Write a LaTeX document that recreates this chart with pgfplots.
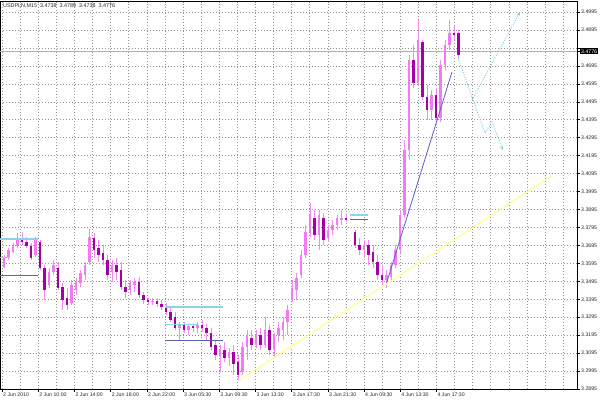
\documentclass[border=0pt]{standalone}
\usepackage{fontspec}
\setmainfont{Liberation Sans}
\usepackage{pgfplots}
\usepackage{pgfplotstable}
\pgfplotsset{compat=1.18}
\usetikzlibrary{arrows.meta}
\definecolor{wick}{RGB}{240,140,240}
\definecolor{bull}{RGB}{246,120,246}
\definecolor{bear}{RGB}{165,0,165}
\definecolor{cyanL}{RGB}{140,210,235}
\definecolor{slateL}{RGB}{90,100,170}
\definecolor{trendB}{RGB}{95,90,215}
\definecolor{yelL}{RGB}{255,255,150}
\definecolor{arrowC}{RGB}{120,200,220}

\pgfplotstableread{
x o h l c
4 3.3575 3.3642 3.3569 3.3625
8.5 3.3625 3.3681 3.3614 3.3670
13 3.3658 3.3709 3.3653 3.3698
17.5 3.3692 3.3764 3.3681 3.3736
22 3.3736 3.3770 3.3698 3.3714
26.5 3.3714 3.3742 3.3681 3.3692
31 3.3692 3.3709 3.3614 3.3625
35.5 3.3642 3.3742 3.3631 3.3725
40 3.3714 3.3725 3.3558 3.3569
44.5 3.3569 3.3586 3.3391 3.3447
49 3.3475 3.3569 3.3458 3.3547
53.5 3.3547 3.3614 3.3530 3.3586
58 3.3569 3.3603 3.3447 3.3458
62.5 3.3463 3.3486 3.3335 3.3391
67 3.3403 3.3458 3.3335 3.3363
71.5 3.3375 3.3502 3.3363 3.3475
76 3.3447 3.3513 3.3419 3.3491
80.5 3.3486 3.3558 3.3463 3.3541
85 3.3530 3.3603 3.3502 3.3586
89.5 3.3603 3.3787 3.3586 3.3742
94 3.3736 3.3764 3.3625 3.3670
98.5 3.3681 3.3725 3.3603 3.3642
103 3.3653 3.3698 3.3586 3.3614
107.5 3.3614 3.3642 3.3502 3.3530
112 3.3547 3.3614 3.3491 3.3586
116.5 3.3586 3.3625 3.3502 3.3547
121 3.3558 3.3603 3.3447 3.3463
125.5 3.3463 3.3502 3.3403 3.3436
130 3.3447 3.3502 3.3419 3.3486
134.5 3.3475 3.3513 3.3436 3.3491
139 3.3491 3.3519 3.3403 3.3419
143.5 3.3419 3.3436 3.3369 3.3391
148 3.3391 3.3403 3.3363 3.3380
152.5 3.3380 3.3403 3.3363 3.3386
157 3.3386 3.3403 3.3352 3.3369
161.5 3.3369 3.3391 3.3335 3.3352
166 3.3352 3.3375 3.3307 3.3324
170.5 3.3324 3.3352 3.3268 3.3280
175 3.3296 3.3324 3.3224 3.3235
179.5 3.3235 3.3268 3.3168 3.3252
184 3.3252 3.3268 3.3207 3.3224
188.5 3.3224 3.3252 3.3196 3.3246
193 3.3246 3.3257 3.3213 3.3235
197.5 3.3235 3.3268 3.3207 3.3252
202 3.3252 3.3280 3.3213 3.3235
206.5 3.3235 3.3257 3.3168 3.3207
211 3.3207 3.3235 3.3112 3.3129
215.5 3.3140 3.3168 3.3057 3.3085
220 3.3085 3.3140 3.2990 3.3112
224.5 3.3112 3.3157 3.3046 3.3068
229 3.3068 3.3124 3.3024 3.3101
233.5 3.3101 3.3140 3.2973 3.3035
238 3.3046 3.3085 3.2946 3.2973
242.5 3.2990 3.3157 3.2973 3.3129
247 3.3129 3.3224 3.3057 3.3196
251.5 3.3179 3.3224 3.3112 3.3140
256 3.3140 3.3224 3.3124 3.3196
260.5 3.3196 3.3235 3.3112 3.3140
265 3.3140 3.3296 3.3124 3.3224
269.5 3.3224 3.3252 3.3085 3.3112
274 3.3112 3.3207 3.3068 3.3196
278.5 3.3196 3.3268 3.3157 3.3235
283 3.3224 3.3296 3.3168 3.3268
287.5 3.3268 3.3363 3.3196 3.3335
292 3.3391 3.3502 3.3380 3.3458
296.5 3.3447 3.3541 3.3391 3.3513
301 3.3530 3.3670 3.3513 3.3642
305.5 3.3642 3.3809 3.3625 3.3770
310 3.3770 3.3931 3.3742 3.3865
314.5 3.3848 3.3892 3.3725 3.3753
319 3.3753 3.3892 3.3670 3.3865
323.5 3.3848 3.3876 3.3698 3.3725
328 3.3736 3.3809 3.3714 3.3781
332.5 3.3781 3.3837 3.3753 3.3809
337 3.3809 3.3865 3.3781 3.3848
341.5 3.3837 3.3892 3.3809 3.3848
346 3.3848 3.3876 3.3825 3.3837
355 3.3770 3.3781 3.3681 3.3698
359.5 3.3698 3.3736 3.3642 3.3670
364 3.3670 3.3725 3.3625 3.3698
368.5 3.3698 3.3725 3.3586 3.3642
373 3.3658 3.3698 3.3569 3.3603
377.5 3.3603 3.3642 3.3502 3.3530
382 3.3530 3.3586 3.3475 3.3502
386.5 3.3502 3.3558 3.3458 3.3530
391 3.3519 3.3603 3.3491 3.3586
395.5 3.3586 3.3698 3.3569 3.3670
400 3.3670 3.3892 3.3653 3.3865
404.5 3.3865 3.4282 3.3848 3.4226
409 3.4226 3.4756 3.4171 3.4728
413.5 3.4728 3.4811 3.4572 3.4600
418 3.4600 3.4951 3.4589 3.4839
422.5 3.4828 3.4839 3.4505 3.4522
427 3.4522 3.4589 3.4394 3.4449
431.5 3.4449 3.4561 3.4394 3.4533
436 3.4533 3.4572 3.4383 3.4405
440.5 3.4405 3.4728 3.4383 3.4700
445 3.4700 3.4839 3.4672 3.4811
449.5 3.4811 3.4951 3.4783 3.4878
454 3.4878 3.4923 3.4839 3.4867
458.5 3.4878 3.4895 3.4739 3.4756
}\candles

\begin{document}
\begin{tikzpicture}
\useasboundingbox (0,0) rectangle (600pt,403pt);
\begin{axis}[
  at={(0pt,14pt)}, anchor=south west,
  scale only axis, width=577pt, height=387.2pt,
  xmin=0, xmax=577, ymin=3.2895, ymax=3.5052,
  axis line style={black, line width=0.8pt},
  xtick={2,38.2,74.4,110.6,146.8,183,219.2,255.4,291.6,327.8,364,400.2,436.4},
  xticklabels={2 Jun 2010,2 Jun 10:00,2 Jun 14:00,2 Jun 18:00,2 Jun 22:00,3 Jun 05:30,3 Jun 09:30,3 Jun 13:30,3 Jun 17:30,3 Jun 21:30,4 Jun 09:30,4 Jun 13:30,4 Jun 17:30},
  minor xtick={20.1,56.3,92.5,128.7,164.9,201.1,237.3,273.5,309.7,345.9,382.1,418.3,454.5,472.6,490.7,508.8,526.9,545,563.1},
  ytick={3.2895,3.2995,3.3095,3.3195,3.3295,3.3395,3.3495,3.3595,3.3695,3.3795,3.3895,3.3995,3.4095,3.4195,3.4295,3.4395,3.4495,3.4595,3.4695,3.4795,3.4895,3.4995},
  yticklabels={3.2895,3.2995,3.3095,3.3195,3.3295,3.3395,3.3495,3.3595,3.3695,3.3795,3.3895,3.3995,3.4095,3.4195,3.4295,3.4395,3.4495,3.4595,3.4695,,3.4895,3.4995},
  grid=both,
  major grid style={gray!85, dash pattern=on 1pt off 2pt, line width=0.5pt},
  minor grid style={gray!85, dash pattern=on 1pt off 2pt, line width=0.5pt},
  xtick pos=left, ytick pos=right, yticklabel pos=right,
  tick align=outside, major tick length=3pt, minor tick length=0pt,
  tick style={black, line width=0.5pt},
  ticklabel style={font=\fontsize{5.2}{6}\selectfont, text=black!85},
  xticklabel style={anchor=north west, inner sep=1pt},
  yticklabel style={anchor=west, inner sep=1pt},
  extra y ticks={3.4776}, extra y tick labels={3.4776},
  extra y tick style={grid=major, major grid style={solid, gray!60, line width=1.2pt},
    yticklabel style={fill=black, text=white}},
]
% wicks
\addplot[draw=none, mark=none, forget plot,
  error bars/.cd, y dir=plus, y explicit, error mark=none,
  error bar style={draw=wick, solid, line width=0.9pt}]
  table[x=x, y=l, y error expr=\thisrow{h}-\thisrow{l}]{\candles};
% bullish bodies
\addplot[draw=none, mark=none, forget plot,
  restrict expr to domain={\thisrow{c}-\thisrow{o}}{0:1},
  error bars/.cd, y dir=plus, y explicit, error mark=none,
  error bar style={draw=bull, solid, line width=2.1pt}]
  table[x=x, y=o, y error expr=\thisrow{c}-\thisrow{o}]{\candles};
% bearish bodies
\addplot[draw=none, mark=none, forget plot,
  restrict expr to domain={\thisrow{o}-\thisrow{c}}{0.00001:1},
  error bars/.cd, y dir=plus, y explicit, error mark=none,
  error bar style={draw=bear, solid, line width=2.1pt}]
  table[x=x, y=c, y error expr=\thisrow{o}-\thisrow{c}]{\candles};
% horizontal level lines
\addplot[cyanL, line width=1.3pt] coordinates {(0,3.3731) (38,3.3731)};
\addplot[cyanL, line width=1pt] coordinates {(0,3.3625) (10,3.3625)};
\addplot[slateL, line width=0.9pt] coordinates {(0,3.3525) (38,3.3525)};
\addplot[cyanL, line width=1.3pt] coordinates {(165,3.3352) (223,3.3352)};
\addplot[cyanL, line width=1pt] coordinates {(165,3.3257) (197,3.3257)};
\addplot[slateL, line width=0.9pt] coordinates {(165,3.3163) (223,3.3163)};
\addplot[cyanL, line width=1.3pt] coordinates {(350,3.3865) (368,3.3865)};
\addplot[slateL, line width=0.9pt] coordinates {(350,3.3842) (368,3.3842)};
% trend lines
\addplot[trendB, line width=0.8pt] coordinates {(386,3.3475) (452,3.4661)};
\addplot[yelL, line width=1.3pt] coordinates {(240,3.2946) (553,3.4087)};
% projected paths
\addplot[arrowC, dash pattern=on 1pt off 1.5pt, line width=0.9pt, -{Stealth[length=4pt,width=3pt]}]
  coordinates {(458,3.4739) (485,3.4321) (492,3.4383) (503,3.4226)};
\addplot[arrowC, dash pattern=on 1pt off 1.5pt, line width=0.9pt, -{Stealth[length=4pt,width=3pt]}]
  coordinates {(472,3.4505) (520,3.4995)};
\end{axis}
\node[anchor=west, inner sep=0pt, font=\fontsize{5.4}{6}\selectfont, text=black!85]
  at (3pt,397pt) {USDPLN,M15\ \ 3.4738\ \ 3.4789\ \ 3.4738\ \ 3.4776};
\end{tikzpicture}
\end{document}
